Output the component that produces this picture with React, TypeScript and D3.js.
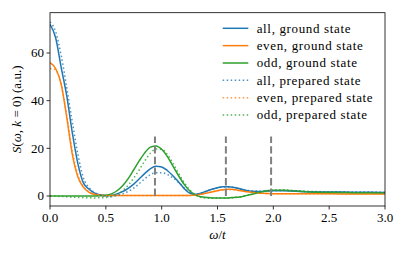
import React from 'react';
import * as d3 from 'd3';

// sample positions (omega / t)
const xs = [0, 0.05, 0.1, 0.15, 0.2, 0.25, 0.3, 0.35, 0.4, 0.45, 0.5, 0.55, 0.6, 0.65, 0.7, 0.75, 0.8, 0.85, 0.9, 0.95, 1.0, 1.05, 1.1, 1.15, 1.2, 1.25, 1.3,
  1.35, 1.4, 1.45, 1.5, 1.55, 1.6, 1.65, 1.7, 1.75, 1.8, 1.9, 2.0, 2.1, 2.2, 2.3, 2.5, 2.7, 3.0];

const allGround = [72, 66.5, 54, 42, 26.5, 13.5, 5.4, 2.8, 1.2, 0.5, 0.15, 0.3, 0.9, 1.8, 3.2, 5.0, 7.2, 9.5, 11.5, 12.5, 12.2, 10.7, 8.5, 6.0, 3.2, 1.2, 0.7,
  1.2, 2.0, 2.8, 3.5, 3.9, 3.9, 3.6, 3.0, 2.4, 2.0, 1.9, 2.2, 2.2, 2.0, 1.8, 1.7, 1.6, 1.5];
const evenGround = [56, 53.5, 47, 33, 17.5, 8, 3.6, 1.5, 0.6, 0.3, 0.2, 0.2, 0.2, 0.2, 0.2, 0.2, 0.2, 0.2, 0.2, 0.2, 0.2, 0.2, 0.2, 0.2, 0.2, 0.25, 0.4,
  0.7, 1.2, 1.7, 2.2, 2.6, 2.8, 2.7, 2.3, 1.9, 1.6, 1.1, 0.9, 0.9, 0.9, 0.9, 0.9, 0.85, 0.8];
const oddGround = [0, 0, 0, 0, 0, 0, 0, 0, 0, 0.1, 0.3, 0.9, 2.2, 4.3, 7.3, 11.0, 14.8, 18.2, 20.5, 21.0, 19.6, 16.6, 12.6, 8.6, 5.0, 2.2, 0.5,
  -0.3, -0.6, -0.8, -0.8, -0.8, -0.8, -0.6, -0.4, 0.1, 0.6, 1.8, 2.4, 2.4, 2.1, 1.8, 1.5, 1.4, 1.3];
const allPrepared = [73, 69, 59, 45.5, 31, 17.5, 7.5, 3.5, 1.4, 0.3, -0.2, -0.2, 0.3, 0.9, 1.9, 3.3, 5.2, 7.3, 9.0, 9.8, 9.8, 9.0, 7.6, 5.8, 3.5, 1.5, 0.8,
  1.2, 2.0, 2.8, 3.4, 3.8, 3.8, 3.5, 3.0, 2.5, 2.2, 2.0, 2.3, 2.3, 2.1, 1.9, 1.8, 1.7, 1.6];
const evenPrepared = [53.5, 53, 46.5, 34, 19, 9, 4, 1.7, 0.7, 0.3, 0.2, 0.2, 0.2, 0.2, 0.2, 0.2, 0.2, 0.2, 0.2, 0.2, 0.2, 0.2, 0.2, 0.2, 0.2, 0.25, 0.4,
  0.7, 1.2, 1.7, 2.2, 2.6, 2.7, 2.6, 2.3, 1.9, 1.6, 1.1, 0.9, 0.9, 0.9, 0.9, 0.9, 0.85, 0.8];
const oddPrepared = [0, -0.1, -0.2, -0.35, -0.5, -0.6, -0.7, -0.75, -0.8, -0.75, -0.6, -0.2, 0.6, 2.2, 4.5, 7.5, 11.0, 14.8, 18.0, 19.7, 19.6, 17.5, 13.8, 9.6, 5.8, 2.6, 0.5,
  -0.5, -0.9, -1.0, -1.0, -1.0, -0.9, -0.7, -0.4, 0.1, 0.6, 1.8, 2.5, 2.5, 2.2, 1.9, 1.6, 1.4, 1.3];

const seriesLabels = ['all, ground state', 'even, ground state', 'odd, ground state', 'all, prepared state', 'even, prepared state', 'odd, prepared state'];
const seriesValues = [allGround, evenGround, oddGround, allPrepared, evenPrepared, oddPrepared];
const colors = ['#1f77b4', '#ff7f0e', '#2ca02c', '#1f77b4', '#ff7f0e', '#2ca02c'];

const markers = [0.94, 1.575, 1.98];
const markerTop = 25;

const xTicks = [0, 0.5, 1.0, 1.5, 2.0, 2.5, 3.0];
const yTicks = [0, 20, 40, 60];

const W = 407, H = 254;
const left = 50, right = 385, top = 12.7, bottom = 206;
const font = { fontFamily: "'Liberation Serif'", fontSize: '13px' };
const wideFont = { ...font, letterSpacing: '0.65px' };

export default function App() {
  const x = d3.scaleLinear().domain([0, 3]).range([left, right]);
  const y = d3.scaleLinear().domain([-4.2, 76.9]).range([bottom, top]);

  const line = d3.line<number>()
    .x((_, i) => x(xs[i]))
    .y(d => y(d))
    .curve(d3.curveMonotoneX);

  return (
    <svg width={W} height={H} style={{ position: 'absolute', left: 0, top: 0 }}>
      <rect width={W} height={H} fill="#fff" />
      <defs>
        <clipPath id="plot">
          <rect x={left} y={top} width={right - left} height={bottom - top} />
        </clipPath>
      </defs>

      <g clipPath="url(#plot)">
        {seriesValues.map((vals, i) => (
          <path key={i} d={line(vals) || ''} fill="none" stroke={colors[i]}
            strokeWidth={1.5}
            strokeDasharray={i >= 3 ? '1.5,2.5' : undefined}
            opacity={i >= 3 ? 0.8 : 1} />
        ))}
        {markers.map(m => (
          <line key={m} x1={x(m)} x2={x(m)} y1={y(0)} y2={y(markerTop)}
            stroke="#808080" strokeWidth={2} strokeDasharray="7.4,3.2" />
        ))}
      </g>

      {/* frame */}
      <rect x={left} y={top} width={right - left} height={bottom - top} fill="none" stroke="#000" strokeWidth={0.8} />

      {/* x axis */}
      {xTicks.map(t => (
        <g key={t} transform={`translate(${x(t)},${bottom})`}>
          <line y2={3.5} stroke="#000" strokeWidth={0.8} />
          <text y={15.5} textAnchor="middle" style={font} fill="#000">{t.toFixed(1)}</text>
        </g>
      ))}
      <text x={(left + right) / 2} y={239} textAnchor="middle" style={font} fill="#000">
        <tspan fontStyle="italic">ω</tspan>/<tspan fontStyle="italic">t</tspan>
      </text>

      {/* y axis */}
      {yTicks.map(t => (
        <g key={t} transform={`translate(${left},${y(t)})`}>
          <line x2={-3.5} stroke="#000" strokeWidth={0.8} />
          <text x={-6} dy="0.34em" textAnchor="end" style={font} fill="#000">{t}</text>
        </g>
      ))}
      <text transform={`translate(21,${(top + bottom) / 2}) rotate(-90)`} textAnchor="middle" style={font} fill="#000">
        <tspan fontStyle="italic">S</tspan>(<tspan fontStyle="italic">ω</tspan>, <tspan fontStyle="italic">k</tspan> = 0) (a.u.)
      </text>

      {/* legend */}
      {seriesLabels.map((lab, i) => {
        const ly = 28.3 + i * 17.35;
        return (
          <g key={lab}>
            <line x1={222.7} x2={248.3} y1={ly} y2={ly} stroke={colors[i]} strokeWidth={1.5}
              strokeDasharray={i >= 3 ? '1.5,2.5' : undefined} opacity={i >= 3 ? 0.8 : 1} />
            <text x={256.7} y={ly + 4.2} style={wideFont} fill="#000">{lab}</text>
          </g>
        );
      })}
    </svg>
  );
}
